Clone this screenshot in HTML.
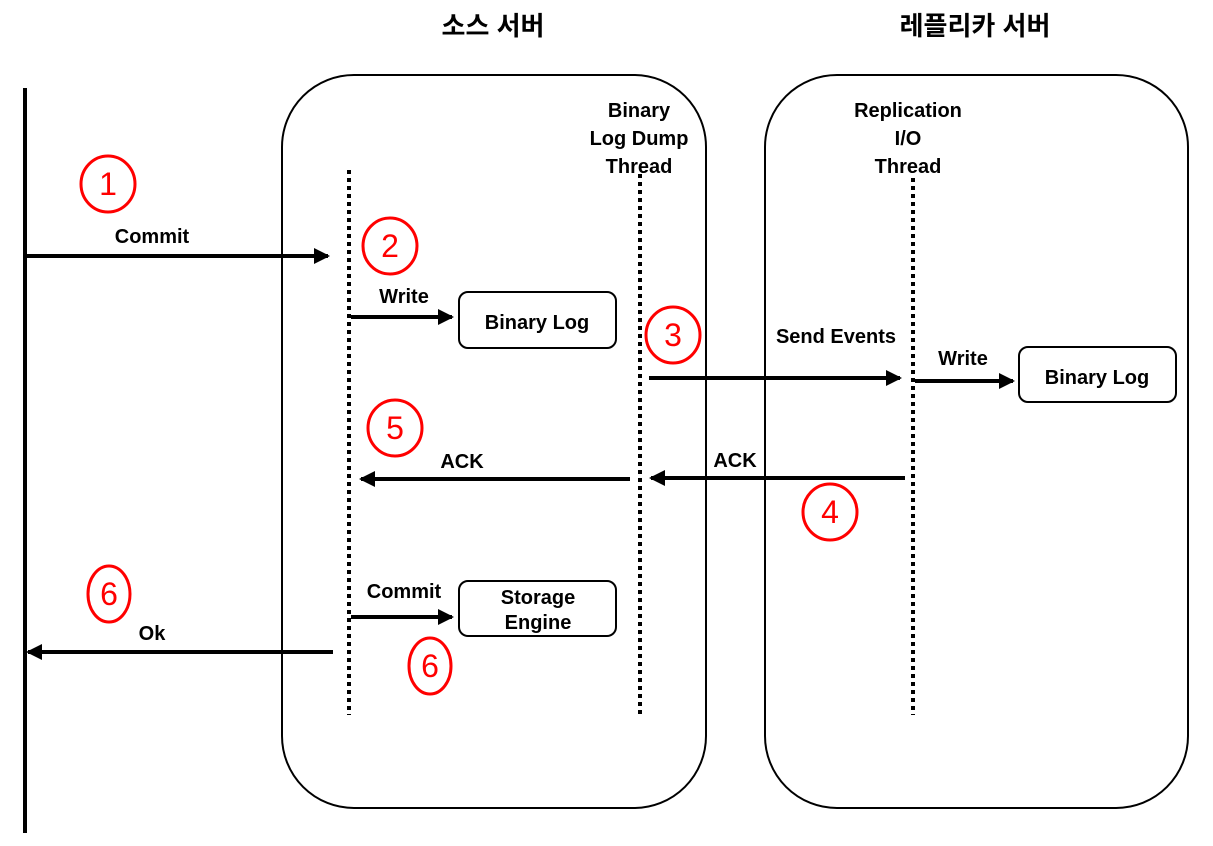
<!DOCTYPE html>
<html><head><meta charset="utf-8"><style>
html,body{margin:0;padding:0;background:#fff;}
svg{display:block;}
text{font-family:"Liberation Sans","Noto Sans CJK KR",sans-serif;font-weight:bold;fill:#000;}
.n{font-weight:normal;fill:#f00;font-size:32px;}
</style></head><body>
<svg width="1213" height="846" viewBox="0 0 1213 846" xmlns="http://www.w3.org/2000/svg">
<defs>
<marker id="a" markerWidth="4" markerHeight="4" refX="3.5" refY="2" orient="auto" markerUnits="strokeWidth"><path d="M0,0 L4,2 L0,4 z" fill="#000"/></marker>
</defs>
<text x="493" y="35" font-size="26" text-anchor="middle">소스 서버</text>
<text x="975" y="35" font-size="26" text-anchor="middle">레플리카 서버</text>
<line x1="25" y1="88" x2="25" y2="833" stroke="#000" stroke-width="4"/>
<rect x="282" y="75" width="424" height="733" rx="72" fill="none" stroke="#000" stroke-width="2"/>
<rect x="765" y="75" width="423" height="733" rx="72" fill="none" stroke="#000" stroke-width="2"/>
<g stroke="#000" stroke-width="4" stroke-dasharray="4 4">
<line x1="349" y1="170" x2="349" y2="715"/>
<line x1="640" y1="174" x2="640" y2="715"/>
<line x1="913" y1="178" x2="913" y2="715"/>
</g>
<g font-size="20" text-anchor="middle">
<text x="639" y="117">Binary</text><text x="639" y="145">Log Dump</text><text x="639" y="173">Thread</text>
<text x="908" y="117">Replication</text><text x="908" y="145">I/O</text><text x="908" y="173">Thread</text>
</g>
<g stroke="#000" stroke-width="4" fill="none">
<line x1="25" y1="256" x2="328" y2="256" marker-end="url(#a)"/>
<line x1="351" y1="317" x2="452" y2="317" marker-end="url(#a)"/>
<line x1="649" y1="378" x2="900" y2="378" marker-end="url(#a)"/>
<line x1="915" y1="381" x2="1013" y2="381" marker-end="url(#a)"/>
<line x1="905" y1="478" x2="651" y2="478" marker-end="url(#a)"/>
<line x1="630" y1="479" x2="361" y2="479" marker-end="url(#a)"/>
<line x1="351" y1="617" x2="452" y2="617" marker-end="url(#a)"/>
<line x1="333" y1="652" x2="28" y2="652" marker-end="url(#a)"/>
</g>
<g fill="#fff" stroke="#000" stroke-width="2">
<rect x="459" y="292" width="157" height="56" rx="9"/>
<rect x="1019" y="347" width="157" height="55" rx="9"/>
<rect x="459" y="581" width="157" height="55" rx="9"/>
</g>
<g font-size="20" text-anchor="middle">
<text x="152" y="243">Commit</text>
<text x="404" y="303">Write</text>
<text x="537" y="329">Binary Log</text>
<text x="836" y="343">Send Events</text>
<text x="963" y="365">Write</text>
<text x="1097" y="384">Binary Log</text>
<text x="735" y="467">ACK</text>
<text x="462" y="468">ACK</text>
<text x="404" y="598">Commit</text>
<text x="538" y="604">Storage</text>
<text x="538" y="629">Engine</text>
<text x="152" y="640">Ok</text>
</g>
<g fill="none" stroke="#f00" stroke-width="3">
<ellipse cx="108" cy="184" rx="27" ry="28"/>
<ellipse cx="390" cy="246" rx="27" ry="28"/>
<ellipse cx="673" cy="335" rx="27" ry="28"/>
<ellipse cx="395" cy="428" rx="27" ry="28"/>
<ellipse cx="830" cy="512" rx="27" ry="28"/>
<ellipse cx="109" cy="594" rx="21" ry="28"/>
<ellipse cx="430" cy="666" rx="21" ry="28"/>
</g>
<g class="n" text-anchor="middle">
<text class="n" x="108" y="195">1</text>
<text class="n" x="390" y="257">2</text>
<text class="n" x="673" y="346">3</text>
<text class="n" x="395" y="439">5</text>
<text class="n" x="830" y="523">4</text>
<text class="n" x="109" y="605">6</text>
<text class="n" x="430" y="677">6</text>
</g>
</svg>
</body></html>
